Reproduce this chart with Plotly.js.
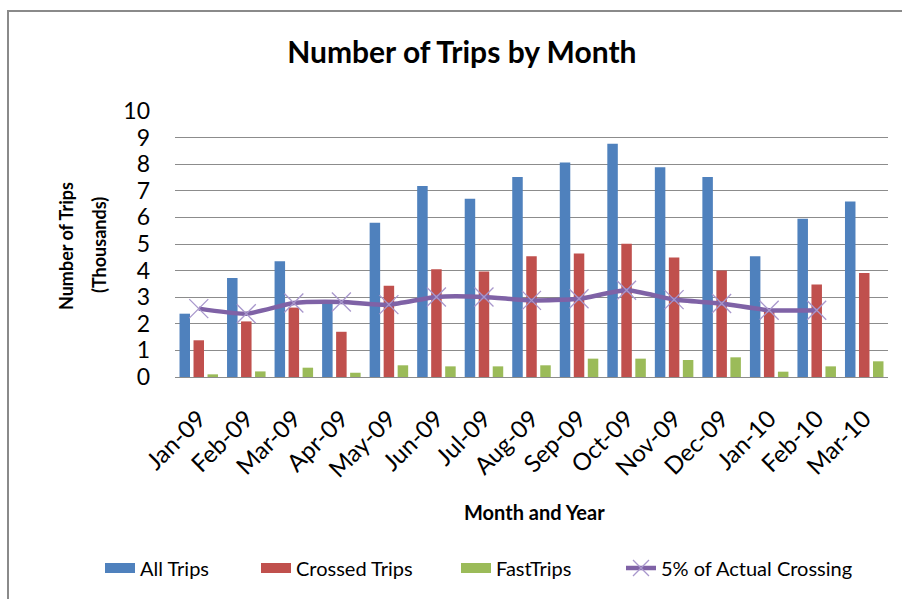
<!DOCTYPE html>
<html>
<head>
<meta charset="utf-8">
<script src="https://cdn.plot.ly/plotly-3.0.1.min.js"></script>
<style>
html,body{margin:0;padding:0;background:#fff;overflow:hidden;}
#frame{position:absolute;left:7px;top:10px;width:1000px;height:700px;border-left:2px solid #8a8a8a;border-top:2px solid #8a8a8a;pointer-events:none;z-index:5;}
#chart{position:absolute;left:0;top:0;width:902px;height:599px;}
</style>
</head>
<body>
<div id="chart"></div>
<div id="frame"></div>
<script>
const months = ["Jan-09","Feb-09","Mar-09","Apr-09","May-09","Jun-09","Jul-09","Aug-09","Sep-09","Oct-09","Nov-09","Dec-09","Jan-10","Feb-10","Mar-10"];
const allTrips = [2.38,3.72,4.35,2.78,5.80,7.18,6.70,7.52,8.06,8.77,7.89,7.52,4.54,5.95,6.60];
const crossedTrips = [1.38,2.09,2.61,1.70,3.43,4.05,3.97,4.54,4.64,5.01,4.49,4.00,2.51,3.48,3.91];
const fastTrips = [0.10,0.21,0.35,0.16,0.44,0.40,0.40,0.44,0.69,0.69,0.64,0.74,0.20,0.40,0.59];
const actualCrossing5 = [2.57,2.38,2.78,2.82,2.72,3.01,3.01,2.88,2.94,3.26,2.91,2.76,2.51,2.51,null];
const yTicks = [0,1,2,3,4,5,6,7,8,9,10];
const seriesNames = ["All Trips","Crossed Trips","FastTrips","5% of Actual Crossing"];
const seriesColors = ["#4F81BD","#C0504D","#9BBB59","#7F62A6"];

const FONT = "Lato, 'Liberation Sans', sans-serif";
const barData = [allTrips, crossedTrips, fastTrips];
const legendIds = ['legend','legend2','legend3','legend4'];
const legendTextX = [140, 296, 496, 661];

const traces = [];
barData.forEach((vals, i) => {
  traces.push({type:'bar', name:seriesNames[i], x:months, y:vals, legendgroup:'g'+i, showlegend:false,
               marker:{color:seriesColors[i]}});
});
// legend entries for the bar series (wide swatches like the original)
barData.forEach((vals, i) => {
  traces.push({type:'scatter', mode:'lines', name:seriesNames[i], legendgroup:'g'+i, showlegend:true,
               legend:legendIds[i],
               x:[months[0]], y:[null], line:{color:seriesColors[i], width:10}, hoverinfo:'skip'});
});
traces.push({type:'scatter', mode:'lines+markers', name:seriesNames[3], x:months, y:actualCrossing5,
   legend:legendIds[3],
   line:{color:seriesColors[3], width:4.5, shape:'spline', smoothing:0.6},
   marker:{symbol:'x-thin-open', size:19, color:'#A897CC', line:{color:'#A897CC', width:1.3}},
   connectgaps:false});

const L = 175, T = 111, W = 713, H = 266;
const px2x = px => (px - L) / W;
const px2y = py => (T + H - py) / H;

const layout = {
  width:902, height:599,
  margin:{l:L, r:902-L-W, t:T, b:599-T-H},
  paper_bgcolor:'#ffffff', plot_bgcolor:'#ffffff',
  font:{family:FONT, color:'#000'},
  title:{text:'Number of Trips by Month', font:{family:FONT, size:30, color:'#000', weight:'bold'},
         x:0.512, xref:'container', y:0.913, yref:'container', yanchor:'middle'},
  barmode:'group', bargap:0.116, bargroupgap:0.25,
  xaxis:{type:'category', range:[-0.5, 14.5], autorange:false, tickangle:-45,
         tickfont:{family:FONT, size:24, color:'#000'},
         showgrid:false, showline:false, ticks:'', ticklabelstandoff:22},
  yaxis:{range:[0,10], autorange:false, tickvals:yTicks, ticktext:yTicks.map(String),
         tickfont:{family:FONT, size:23, color:'#000'},
         showgrid:true, gridcolor:'#8c8c8c', gridwidth:1, zeroline:true, zerolinecolor:'#8c8c8c', zerolinewidth:1,
         showline:false, ticks:'', ticklabelstandoff:24},
  annotations:[
    {text:'Month and Year', xref:'paper', yref:'paper', x:px2x(534), y:px2y(512), xanchor:'center', yanchor:'middle',
     showarrow:false, font:{family:FONT, size:20, color:'#000', weight:'bold'}},
    {text:'Number of Trips', xref:'paper', yref:'paper', x:px2x(66), y:px2y(246), xanchor:'center', yanchor:'middle',
     textangle:-90, showarrow:false, font:{family:FONT, size:18, color:'#000', weight:'bold'}},
    {text:'(Thousands)', xref:'paper', yref:'paper', x:px2x(99), y:px2y(245), xanchor:'center', yanchor:'middle',
     textangle:-90, showarrow:false, font:{family:FONT, size:18, color:'#000', weight:'bold'}}
  ],
  showlegend:true
};
legendIds.forEach((id, i) => {
  layout[id] = {orientation:'h', xref:'container', yref:'container', x:(legendTextX[i]-40)/902, xanchor:'left',
                y:1-568/599, yanchor:'middle', font:{family:FONT, size:20, color:'#000'}, bgcolor:'rgba(0,0,0,0)'};
});

Plotly.newPlot('chart', traces, layout, {displayModeBar:false, staticPlot:true});
</script>
</body>
</html>
